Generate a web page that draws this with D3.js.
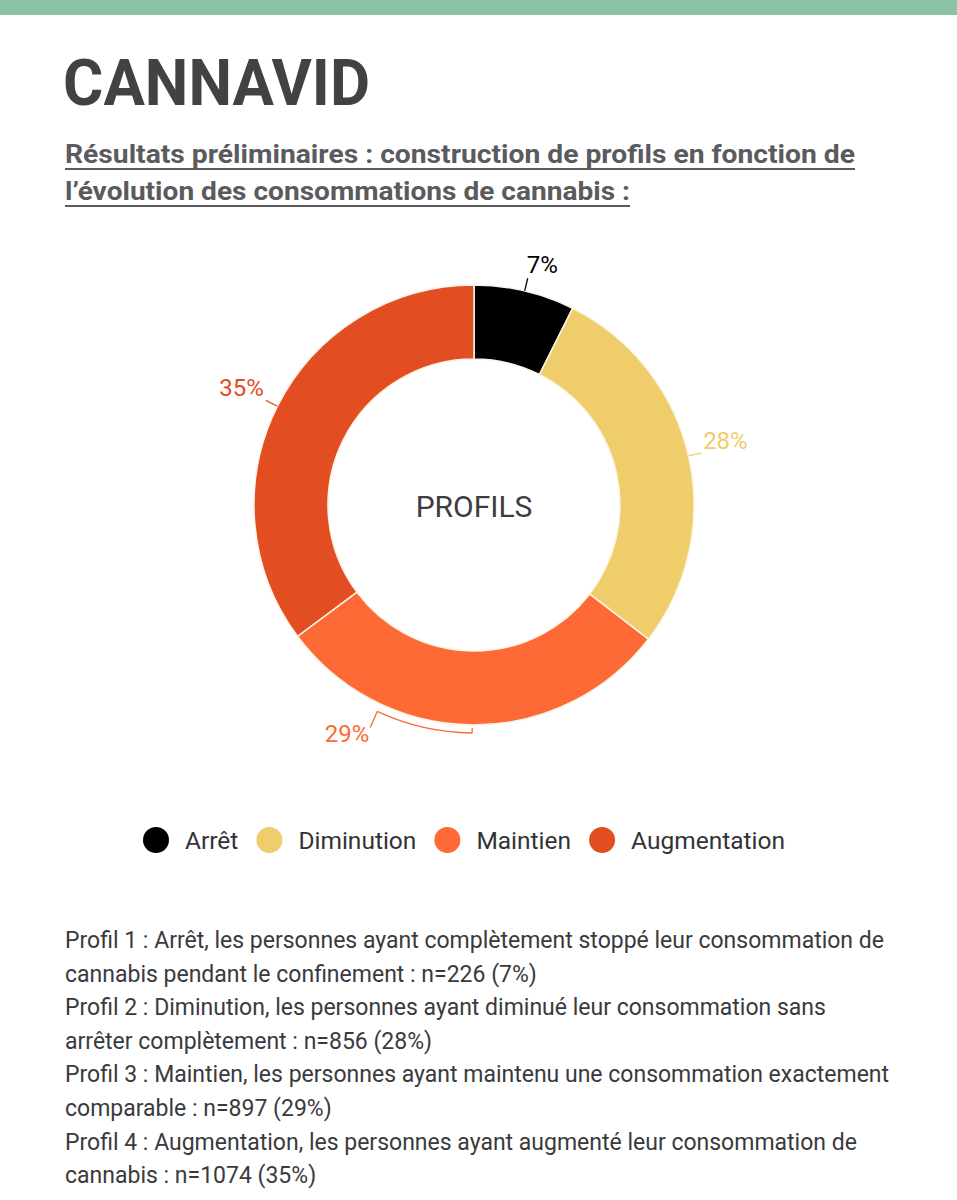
<!DOCTYPE html>
<html>
<head>
<meta charset="utf-8">
<script src="https://cdn.jsdelivr.net/npm/d3@7"></script>
<style>
  body { margin: 0; background: #fff; }
  svg { display: block; font-family: Roboto, "Noto Sans", sans-serif; }
</style>
</head>
<body>
<div class="chart"></div>
<script>
const width = 957;
const height = 1200;

// data
const profils = ["Arrêt", "Diminution", "Maintien", "Augmentation"];
const effectifs = [226, 856, 897, 1074];
const pourcents = [7, 28, 29, 35];
const couleurs = ["#000000", "#EECD6A", "#FD6A35", "#E24E22"];

const titre = "CANNAVID";
const sousTitre = [
  "Résultats préliminaires : construction de profils en fonction de ",
  "l’évolution des consommations de cannabis :"
];
const notes = [
  "Profil 1 : Arrêt, les personnes ayant complètement stoppé leur consommation de",
  "cannabis pendant le confinement : n=226 (7%)",
  "Profil 2 : Diminution, les personnes ayant diminué leur consommation sans",
  "arrêter complètement : n=856 (28%)",
  "Profil 3 : Maintien, les personnes ayant maintenu une consommation exactement",
  "comparable : n=897 (29%)",
  "Profil 4 : Augmentation, les personnes ayant augmenté leur consommation de",
  "cannabis : n=1074 (35%)"
];

const svg = d3.select(".chart")
  .append("svg")
  .attr("width", width)
  .attr("height", height);

// green band on top
svg.append("rect")
  .attr("x", 0).attr("y", 0)
  .attr("width", width).attr("height", 15)
  .attr("fill", "#8CC2A8");

// title
svg.append("text")
  .attr("x", 63).attr("y", 105)
  .attr("font-size", 64)
  .attr("font-weight", 700)
  .attr("fill", "#424244")
  .attr("textLength", 307)
  .attr("lengthAdjust", "spacingAndGlyphs")
  .text(titre);

// subtitle, underlined
const subWidths = [790, 565];
sousTitre.forEach((t, i) => {
  const y = 163 + i * 37;
  svg.append("text")
    .attr("x", 65).attr("y", y)
    .attr("font-size", 26)
    .attr("font-weight", 700)
    .attr("fill", "#5B5A5E")
    .attr("textLength", subWidths[i])
    .attr("lengthAdjust", "spacingAndGlyphs")
    .text(t);
  svg.append("line")
    .attr("x1", 65).attr("x2", 65 + subWidths[i])
    .attr("y1", y + 6).attr("y2", y + 6)
    .attr("stroke", "#5B5A5E")
    .attr("stroke-width", 2);
});

// donut
const cx = 474, cy = 505;
const outerR = 220, innerR = 146;

const pie = d3.pie().sort(null).value(d => d.n);
const rows = profils.map((p, i) => ({ profil: p, n: effectifs[i], pct: pourcents[i], color: couleurs[i] }));
const arcs = pie(rows);

const arc = d3.arc().innerRadius(innerR).outerRadius(outerR);

const g = svg.append("g").attr("transform", `translate(${cx},${cy})`);

g.selectAll("path.slice")
  .data(arcs)
  .enter()
  .append("path")
  .attr("class", "slice")
  .attr("d", arc)
  .attr("fill", d => d.data.color)
  .attr("stroke", "#fbf3e6")
  .attr("stroke-width", 1.5);

g.append("text")
  .attr("x", 0).attr("y", 12)
  .attr("text-anchor", "middle")
  .attr("font-size", 30)
  .attr("fill", "#3d3d40")
  .text("PROFILS");

// labels with leader lines
const polar = (a, r) => [Math.sin(a) * r, -Math.cos(a) * r];
const mid = d => (d.startAngle + d.endAngle) / 2;

arcs.forEach(d => {
  const a = mid(d);
  const col = d.data.color;
  const lab = g.append("text")
    .attr("font-size", 24)
    .attr("fill", col)
    .text(d.data.pct + "%");

  if (d.data.profil === "Maintien") {
    // bracket below the slice, as on the slide
    const a0 = a, a1 = a + 0.43;
    const br = d3.arc().innerRadius(outerR + 8).outerRadius(outerR + 8)
      .startAngle(a0).endAngle(a1);
    const [tx0, ty0] = polar(a0, outerR + 3);
    const [tx1, ty1] = polar(a0, outerR + 8);
    const [ex, ey] = polar(a1, outerR + 8);
    g.append("path")
      .attr("d", br())
      .attr("fill", "none")
      .attr("stroke", col)
      .attr("stroke-width", 1.3);
    g.append("line")
      .attr("x1", tx0).attr("y1", ty0).attr("x2", tx1).attr("y2", ty1)
      .attr("stroke", col).attr("stroke-width", 1.3);
    g.append("line")
      .attr("x1", ex).attr("y1", ey).attr("x2", ex - 7).attr("y2", ey + 16)
      .attr("stroke", col).attr("stroke-width", 1.3);
    lab.attr("x", ex - 8).attr("y", ey + 31).attr("text-anchor", "end");
  } else {
    const [x0, y0] = polar(a, outerR);
    const [x1, y1] = polar(a, outerR + 13);
    g.append("line")
      .attr("x1", x0).attr("y1", y0).attr("x2", x1).attr("y2", y1)
      .attr("stroke", col).attr("stroke-width", 1.3);
    const right = Math.sin(a) >= 0;
    if (Math.abs(Math.sin(a)) < 0.4) {
      lab.attr("x", x1 - 1).attr("y", y1 - 5).attr("text-anchor", "start");
    } else {
      lab.attr("x", x1 + (right ? 2 : -2)).attr("y", y1 - 4)
        .attr("text-anchor", right ? "start" : "end");
    }
  }
});

// legend
const legend = svg.append("g").attr("transform", "translate(0,840)");
let lx = 156;
rows.forEach(d => {
  legend.append("circle")
    .attr("cx", lx).attr("cy", 0).attr("r", 13)
    .attr("fill", d.color);
  const t = legend.append("text")
    .attr("x", lx + 29).attr("y", 8.5)
    .attr("font-size", 24.5)
    .attr("fill", "#333336")
    .text(d.profil);
  lx = lx + 29 + t.node().getComputedTextLength() + 31;
});

// footnotes
svg.append("g")
  .selectAll("text")
  .data(notes)
  .enter()
  .append("text")
  .attr("x", 65)
  .attr("y", (d, i) => 948 + i * 33.6)
  .attr("font-size", 23)
  .attr("fill", "#3a3a3d")
  .text(d => d);
</script>
</body>
</html>
